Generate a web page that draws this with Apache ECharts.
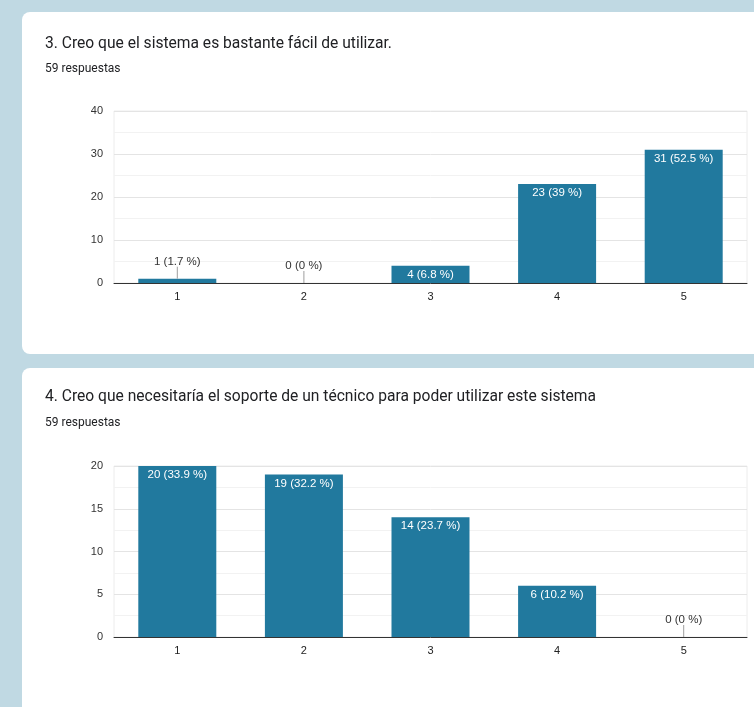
<!DOCTYPE html>
<html>
<head>
<meta charset="utf-8">
<script src="https://cdn.jsdelivr.net/npm/echarts@6/dist/echarts.min.js"></script>
<style>
  html, body { margin: 0; padding: 0; background: #c0d9e3; }
  #main { width: 754px; height: 707px; }
</style>
</head>
<body>
<div id="main"></div>
<script>
// datos
var categories = ['1', '2', '3', '4', '5'];
var values1 = [1, 0, 4, 23, 31];
var pct1 = ['1.7', '0', '6.8', '39', '52.5'];
var values2 = [20, 19, 14, 6, 0];
var pct2 = ['33.9', '32.2', '23.7', '10.2', '0'];
var title1 = '3. Creo que el sistema es bastante fácil de utilizar.';
var title2 = '4. Creo que necesitaría el soporte de un técnico para poder utilizar este sistema';
var subtitle = '59 respuestas';

var barColor = '#21799e';
var tickFont = '"Liberation Sans", Arial, sans-serif';

var chart = echarts.init(document.getElementById('main'));

// etiqueta "n (p %)"
function labelText(vals, pcts, i) {
    return vals[i] + ' (' + pcts[i] + ' %)';
}

// barras pequeñas: etiqueta arriba con linea
function smallItems(vals) {
    var out = [];
    vals.forEach(function(v, i) {
        if (v <= 1) out.push([i, v]);
    });
    return out;
}

function makeRenderSmall(vals, pcts) {
    return function(params, api) {
        var idx = api.value(0);
        var p = api.coord([idx, api.value(1)]);
        return {
            type: 'group',
            children: [
                {
                    type: 'line',
                    shape: { x1: p[0], y1: p[1], x2: p[0], y2: p[1] - 12 },
                    style: { stroke: '#9e9e9e', lineWidth: 1 }
                },
                {
                    type: 'text',
                    x: p[0],
                    y: p[1] - 11,
                    style: {
                        text: labelText(vals, pcts, idx),
                        fill: '#333',
                        fontSize: 11.5,
                        fontFamily: tickFont,
                        align: 'center',
                        verticalAlign: 'bottom'
                    }
                }
            ]
        };
    };
}

function xAxisCfg(idx) {
    return {
        type: 'category',
        gridIndex: idx,
        data: categories,
        axisLine: { lineStyle: { color: '#333', width: 1 } },
        axisTick: { show: false },
        axisLabel: { color: '#222', fontSize: 11, fontFamily: tickFont, margin: 8 }
    };
}

function yAxisCfg(idx, max, interval) {
    return {
        type: 'value',
        gridIndex: idx,
        min: 0,
        max: max,
        interval: interval,
        axisLine: { show: false },
        axisTick: { show: false },
        axisLabel: { color: '#333', fontSize: 11, fontFamily: tickFont, margin: 11 },
        splitLine: { lineStyle: { color: '#e4e4e4' } },
        minorTick: { show: false, splitNumber: 2 },
        minorSplitLine: { show: true, lineStyle: { color: '#f2f2f2' } }
    };
}

function barSeries(idx, vals, pcts) {
    return {
        type: 'bar',
        xAxisIndex: idx,
        yAxisIndex: idx,
        data: vals,
        barWidth: 78,
        itemStyle: { color: barColor },
        label: {
            show: true,
            position: 'insideTop',
            distance: 3,
            color: '#fff',
            fontSize: 11.5,
            fontFamily: tickFont,
            formatter: function(p) {
                return vals[p.dataIndex] <= 1 ? '' : labelText(vals, pcts, p.dataIndex);
            }
        },
        silent: true
    };
}

var titleStyle = { fontFamily: 'Roboto', fontWeight: 'normal', fontSize: 15.6, color: '#202124' };
var subStyle = { fontFamily: 'Roboto', fontWeight: 'normal', fontSize: 12, color: '#202124' };

var option = {
    backgroundColor: '#c0d9e3',
    animation: false,
    graphic: [
        { type: 'rect', z: -10, shape: { x: 22, y: 12, width: 760, height: 342, r: 8 }, style: { fill: '#fff' } },
        { type: 'rect', z: -10, shape: { x: 22, y: 368, width: 760, height: 380, r: 8 }, style: { fill: '#fff' } }
    ],
    title: [
        { text: title1, left: 45, top: 36, padding: 0, textStyle: titleStyle },
        { text: subtitle, left: 45, top: 63, padding: 0, textStyle: subStyle },
        { text: title2, left: 45, top: 389, padding: 0, textStyle: titleStyle },
        { text: subtitle, left: 45, top: 417, padding: 0, textStyle: subStyle }
    ],
    grid: [
        { left: 114, top: 111, width: 633, height: 172, show: true, borderColor: '#ececec', borderWidth: 1, backgroundColor: 'transparent' },
        { left: 114, top: 466, width: 633, height: 171, show: true, borderColor: '#ececec', borderWidth: 1, backgroundColor: 'transparent' }
    ],
    xAxis: [xAxisCfg(0), xAxisCfg(1)],
    yAxis: [yAxisCfg(0, 40, 10), yAxisCfg(1, 20, 5)],
    series: [
        barSeries(0, values1, pct1),
        barSeries(1, values2, pct2),
        {
            type: 'custom',
            xAxisIndex: 0,
            yAxisIndex: 0,
            renderItem: makeRenderSmall(values1, pct1),
            data: smallItems(values1),
            silent: true,
            z: 5
        },
        {
            type: 'custom',
            xAxisIndex: 1,
            yAxisIndex: 1,
            renderItem: makeRenderSmall(values2, pct2),
            data: smallItems(values2),
            silent: true,
            z: 5
        }
    ]
};

chart.setOption(option);
</script>
</body>
</html>
